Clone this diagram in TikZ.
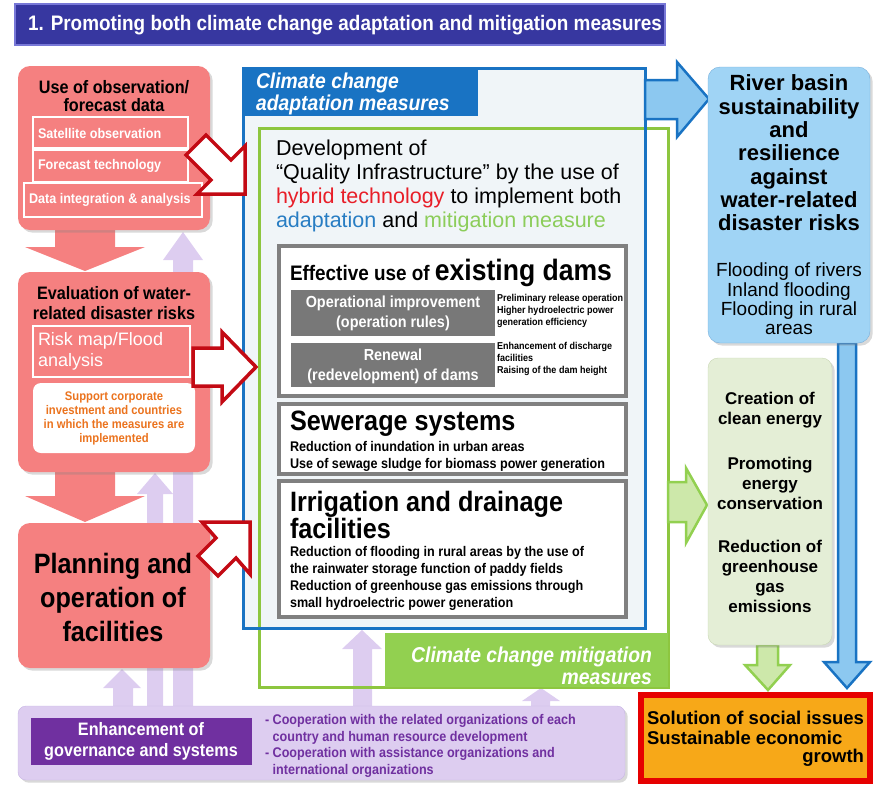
\documentclass[tikz,border=0pt]{standalone}
\usepackage{fontspec}
\setmainfont{Liberation Sans}[FakeStretch=0.9]
\newfontfamily\widefont{Liberation Sans}
\usetikzlibrary{shadows}
\definecolor{titleblue}{RGB}{55,55,160}
\definecolor{titleedge}{RGB}{120,120,215}
\definecolor{pinkfill}{RGB}{245,128,128}
\definecolor{arrowred}{RGB}{195,10,20}
\definecolor{lavfill}{RGB}{221,205,240}
\definecolor{lavedge}{RGB}{200,182,228}
\definecolor{purplefill}{RGB}{112,48,160}
\definecolor{adaptblue}{RGB}{25,115,195}
\definecolor{adaptfill}{RGB}{240,245,248}
\definecolor{mitgreen}{RGB}{141,198,63}
\definecolor{tabgreen}{RGB}{146,208,80}
\definecolor{riverblue}{RGB}{160,212,245}
\definecolor{riveredge}{RGB}{120,175,220}
\definecolor{arrowblue}{RGB}{140,200,240}
\definecolor{cleanfill}{RGB}{228,238,214}
\definecolor{cleanedge}{RGB}{200,215,180}
\definecolor{arrowgreen}{RGB}{205,232,170}
\definecolor{boxgray}{RGB}{128,128,128}
\definecolor{rulegray}{RGB}{120,120,120}
\definecolor{socialorange}{RGB}{247,168,24}
\definecolor{socialred}{RGB}{230,0,0}
\definecolor{supportorange}{RGB}{235,115,30}
\definecolor{hybridred}{RGB}{232,30,40}
\definecolor{adapttext}{RGB}{40,125,195}
\definecolor{mittext}{RGB}{140,205,90}
\newcommand{\fsz}[2]{\fontsize{#1}{#2}\selectfont}
\tikzstyle{every node}=[inner sep=0pt, outer sep=0pt]
\tikzstyle{pinkbox}=[fill=pinkfill, rounded corners=12pt, drop shadow={opacity=0.3}]
\tikzstyle{subbox}=[draw=white, line width=1.5pt, fill=pinkfill]
\tikzstyle{subtext}=[text=white, font=\bfseries\fsz{14}{16}, anchor=west]
\tikzstyle{redarrow}=[fill=white, draw=arrowred, line width=3.5pt, line join=miter]
\tikzstyle{lavarrow}=[fill=lavfill]
\tikzstyle{graybox}=[draw=boxgray, line width=4pt, fill=white]
\tikzstyle{rulebox}=[fill=rulegray]
\tikzstyle{rulehead}=[text=white, font=\bfseries\fsz{16}{20}, align=center]
\tikzstyle{tinytext}=[font=\bfseries\fsz{10}{12}, anchor=west, align=left]
\tikzstyle{smalltext}=[font=\bfseries\fsz{14}{17}, anchor=west, align=left]
\tikzstyle{bigtext}=[font=\bfseries\fsz{28}{27}, anchor=west, align=left]
\tikzstyle{tabtext}=[text=white, font=\bfseries\itshape\fsz{21.5}{22.5}]

\begin{document}
\begin{tikzpicture}[x=1pt,y=-1pt]
	\useasboundingbox (0,0) rectangle (879,785);
	% title bar
	\draw[fill=titleblue, draw=titleedge, line width=2.5pt] (15,4) rectangle (665,45);
	\node[anchor=west, text=white, font=\bfseries\fsz{21}{22}] (title) at (28,25) {1. Promoting both climate change adaptation and mitigation measures};

	% lavender arrows (behind the boxes)
	\fill[lavarrow] (173,706) -- (173,260) -- (163,260) -- (183,232) -- (203,260) -- (193,260) -- (193,706) -- cycle; % up to observation
	\fill[lavarrow] (147,706) -- (147,494) -- (137,494) -- (155,473) -- (173,494) -- (163,494) -- (163,706) -- cycle; % up to evaluation
	\fill[lavarrow] (113,706) -- (113,688) -- (103,688) -- (122,669) -- (141,688) -- (133,688) -- (133,706) -- cycle; % up to planning
	\fill[lavarrow] (353,706) -- (353,649) -- (342,649) -- (362,630) -- (382,649) -- (372,649) -- (372,706) -- cycle; % up to adaptation
	\fill[lavarrow] (531,706) -- (531,701) -- (522,701) -- (541,688) -- (560,701) -- (550,701) -- (550,706) -- cycle; % up to mitigation

	% pink down arrows
	\fill[pinkfill] (55,225) -- (115,225) -- (115,247) -- (145,247) -- (85,271) -- (25,247) -- (55,247) -- cycle;
	\fill[pinkfill] (55,468) -- (115,468) -- (115,496) -- (145,496) -- (85,522) -- (25,496) -- (55,496) -- cycle;

	% observation / forecast data
	\path[pinkbox] (18,66) rectangle (210,230);
	\node[font=\bfseries\fsz{18}{17.5}, align=center] (obs) at (114,96) {Use of observation/\\forecast data};
	\draw[subbox] (33,117) rectangle (188,148); \node[subtext] (sat) at (38,133) {Satellite observation};
	\draw[subbox] (33,150) rectangle (188,182); \node[subtext] (fore) at (38,166) {Forecast technology};
	\draw[subbox] (24,183) rectangle (202,217); \node[subtext] (integ) at (29,200) {Data integration \& analysis};

	% evaluation of risks
	\path[pinkbox] (18,272) rectangle (210,472);
	\node[font=\bfseries\fsz{18}{19.5}, align=center] (eval) at (114,303) {Evaluation of water-\\related disaster risks};
	\draw[subbox] (33,326) rectangle (190,377);
	\node[text=white, font=\widefont\fsz{18}{21}, anchor=west, align=left] (riskmap) at (38,351) {Risk map/Flood\\analysis};
	\fill[white, rounded corners=8pt] (33,383) rectangle (195,453);
	\node[text=supportorange, font=\bfseries\fsz{12.5}{14}, align=center] (support) at (114,418) {Support corporate\\investment and countries\\in which the measures are\\implemented};

	% planning and operation
	\path[pinkbox] (18,523) rectangle (210,668);
	\node[font=\bfseries\fsz{28}{34}, align=center] (plan) at (113,597) {Planning and\\operation of\\facilities};

	% adaptation and mitigation frames
	\fill[adaptfill] (243,68) rectangle (645,628);
	\draw[mitgreen, line width=3pt] (259,128) rectangle (668,687);
	\fill[tabgreen] (385,633) rectangle (668,687);
	\node[tabtext, anchor=east, align=right] (mittab) at (652,666) {Climate change mitigation\\measures};
	\draw[adaptblue, line width=3pt] (243,68) rectangle (645,628);
	\fill[adaptblue] (243,68) rectangle (478,116);
	\node[tabtext, anchor=west, align=left] (adapttab) at (256,94) {Climate change\\adaptation measures};

	% red arrows into the frames
	\draw[redarrow] (206,135) -- (231,160) -- (245,146) -- (245,194) -- (197,194) -- (211,180) -- (186,155) -- cycle;
	\draw[redarrow] (193,348) -- (222,348) -- (222,332) -- (256,367) -- (222,402) -- (222,386) -- (193,386) -- cycle;
	\draw[redarrow] (198,556) -- (216,538) -- (202,522) -- (250,522) -- (250,574) -- (236,558) -- (218,576) -- cycle;

	% quality infrastructure text
	\node[font=\widefont\fsz{21.5}{24}, anchor=west, align=left] (quality) at (276,186) {Development of\\“Quality Infrastructure” by the use of\\\textcolor{hybridred}{hybrid technology} to implement both\\\textcolor{adapttext}{adaptation} and \textcolor{mittext}{mitigation measure}};

	% existing dams
	\draw[graybox] (279,246) rectangle (626,396);
	\node[anchor=base west, font=\bfseries\fsz{21}{22}] (dams) at (290,280) {Effective use of {\fsz{29.5}{30}existing dams}};
	\fill[rulebox] (291,290) rectangle (495,336); \node[rulehead] (oper) at (393,313) {Operational improvement\\(operation rules)};
	\fill[rulebox] (291,343) rectangle (495,387); \node[rulehead] (renew) at (393,366) {Renewal\\(redevelopment) of dams};
	\node[tinytext] (operdet) at (497,311) {Preliminary release operation\\Higher hydroelectric power\\generation efficiency};
	\node[tinytext] (renewdet) at (497,359) {Enhancement of discharge\\facilities\\Raising of the dam height};

	% sewerage
	\draw[graybox] (279,404) rectangle (626,474);
	\node[bigtext] (sewer) at (290,424) {Sewerage systems};
	\node[smalltext] (sewerdet) at (290,456) {Reduction of inundation in urban areas\\Use of sewage sludge for biomass power generation};

	% irrigation
	\draw[graybox] (279,481) rectangle (626,617);
	\node[bigtext] (irrig) at (290,515) {Irrigation and drainage\\facilities};
	\node[smalltext] (irrigdet) at (290,578) {Reduction of flooding in rural areas by the use of\\the rainwater storage function of paddy fields\\Reduction of greenhouse gas emissions through\\small hydroelectric power generation};

	% outcome arrows
	\draw[fill=arrowblue, draw=adaptblue, line width=2.5pt, line join=miter] (645,80) -- (677,80) -- (677,62) -- (709,99) -- (677,137) -- (677,119) -- (645,119) -- cycle;
	\draw[fill=arrowblue, draw=adaptblue, line width=2.5pt, line join=miter] (838,343) -- (838,662) -- (824,662) -- (847,688) -- (870,662) -- (856,662) -- (856,343) -- cycle;
	\draw[fill=arrowgreen, draw=tabgreen, line width=2.5pt, line join=miter] (668,482) -- (686,482) -- (686,468) -- (707,505) -- (686,543) -- (686,522) -- (668,522) -- cycle;
	\draw[fill=arrowgreen, draw=tabgreen, line width=2.5pt, line join=miter] (757,645) -- (757,665) -- (745,665) -- (768,690) -- (790,665) -- (778,665) -- (778,645) -- cycle;

	% river basin
	\draw[fill=riverblue, draw=riveredge, rounded corners=12pt, drop shadow={opacity=0.3}] (708,67) rectangle (870,343);
	\node[font=\widefont\bfseries\fsz{22}{23.3}, align=center] (river) at (789,153) {River basin\\sustainability\\and\\resilience\\against\\water-related\\disaster risks};
	\node[font=\widefont\fsz{19}{19.3}, align=center] (flood) at (789,299) {Flooding of rivers\\Inland flooding\\Flooding in rural\\areas};

	% clean energy
	\draw[fill=cleanfill, draw=cleanedge, rounded corners=10pt, drop shadow={opacity=0.3}] (708,358) rectangle (832,645);
	\node[font=\widefont\bfseries\fsz{17}{20}, align=center] (clean) at (770,410) {Creation of\\clean energy};
	\node[font=\widefont\bfseries\fsz{17}{20}, align=center] (conserv) at (770,483) {Promoting\\energy\\conservation};
	\node[font=\widefont\bfseries\fsz{17}{20}, align=center] (ghg) at (770,576) {Reduction of\\greenhouse\\gas\\emissions};

	% social issues
	\draw[fill=socialorange, draw=socialred, line width=6pt] (641,695) rectangle (870,781);
	\node[font=\widefont\bfseries\fsz{18.5}{20}, anchor=west, align=left] (social) at (647,728) {Solution of social issues\\Sustainable economic};
	\node[font=\widefont\bfseries\fsz{18.5}{20}, anchor=east] (growth) at (864,758) {growth};

	% governance
	\draw[fill=lavfill, draw=lavedge, rounded corners=8pt, drop shadow={opacity=0.3}] (18,706) rectangle (625,780);
	\fill[purplefill] (31,718) rectangle (252,765);
	\node[text=white, font=\bfseries\fsz{18}{21}, align=center] (gov) at (141,741) {Enhancement of\\governance and systems};
	\node[text=purplefill, font=\bfseries\fsz{14}{16.7}, anchor=west, align=left] (coop) at (265,746) {- Cooperation with the related organizations of each\\\phantom{- }country and human resource development\\- Cooperation with assistance organizations and\\\phantom{- }international organizations};
\end{tikzpicture}
\end{document}
